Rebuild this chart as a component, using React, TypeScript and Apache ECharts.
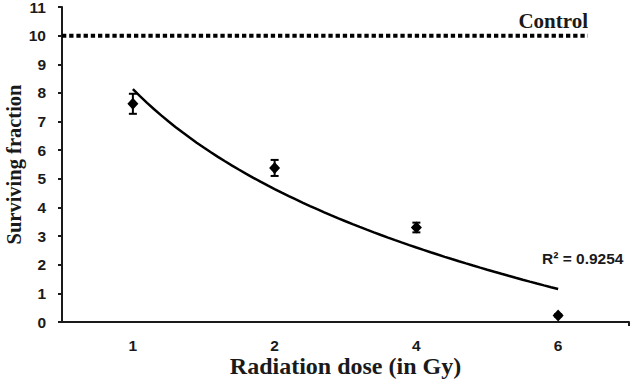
import React, { useEffect, useRef } from "react";
import * as echarts from "echarts";

const doses = ["1", "2", "4", "6"];
const survival = [7.62, 5.38, 3.3, 0.23];
const errors = [0.35, 0.28, 0.17, 0.04];
const controlLevel = 10;
const controlLabel = "Control";
const r2Label = "R² = 0.9254";
const yMin = 0;
const yMax = 11;
const yInterval = 1;

// logarithmic least-squares trendline, y = a ln(x) + b, x = category position (1..n)
function logFit(ys: number[]) {
  const xs = ys.map((_, i) => Math.log(i + 1));
  const n = ys.length;
  const mx = xs.reduce((s, v) => s + v, 0) / n;
  const my = ys.reduce((s, v) => s + v, 0) / n;
  let sxy = 0;
  let sxx = 0;
  for (let i = 0; i < n; i++) {
    sxy += (xs[i] - mx) * (ys[i] - my);
    sxx += (xs[i] - mx) * (xs[i] - mx);
  }
  const a = sxy / sxx;
  return { a, b: my - a * mx };
}

export default function App() {
  const ref = useRef<HTMLDivElement>(null);
  useEffect(() => {
    document.body.style.margin = "0";
    if (!ref.current) return;
    const chart = echarts.init(ref.current, null, { renderer: "svg" });
    const { a, b } = logFit(survival);
    const trend: number[][] = [];
    for (let k = 0; k <= 60; k++) {
      const x = 1 + (k * (survival.length - 1)) / 60;
      trend.push([x, a * Math.log(x) + b]);
    }
    const sans = "Liberation Sans";
    const serif = "Liberation Serif";
    chart.setOption({
      animation: false,
      backgroundColor: "#fff",
      grid: { left: 62, right: 2, top: 7, bottom: 61, containLabel: false, outerBoundsMode: "none" },
      xAxis: [
        {
          type: "category",
          data: doses,
          boundaryGap: true,
          axisLine: { lineStyle: { color: "#1a1a1a", width: 2 } },
          axisTick: { alignWithLabel: true, length: 4, lineStyle: { color: "#1a1a1a", width: 2 } },
          axisLabel: { color: "#1a1a1a", fontSize: 15.5, fontWeight: "bold", fontFamily: sans, margin: 15 },
          name: "Radiation dose (in Gy)",
          nameLocation: "middle",
          nameGap: 32,
          nameMoveOverlap: false,
          nameTextStyle: { color: "#1a1a1a", fontSize: 24, fontWeight: "bold", fontFamily: serif },
          splitLine: { show: false },
        },
        {
          type: "value",
          min: 0.5,
          max: survival.length + 0.5,
          show: false,
        },
      ],
      yAxis: {
        type: "value",
        min: yMin,
        max: yMax,
        interval: yInterval,
        axisLine: { show: true, lineStyle: { color: "#1a1a1a", width: 2 } },
        axisTick: { show: true, length: 4, lineStyle: { color: "#1a1a1a", width: 2 } },
        axisLabel: {
          color: "#1a1a1a",
          fontSize: 15.5,
          lineHeight: 13,
          fontWeight: "bold",
          fontFamily: sans,
          margin: 16,
        },
        splitLine: { show: false },
        name: "Surviving fraction",
        nameLocation: "middle",
        nameGap: 38,
        nameMoveOverlap: false,
        nameTextStyle: { color: "#1a1a1a", fontSize: 20.5, lineHeight: 21, fontWeight: "bold", fontFamily: serif },
      },
      series: [
        {
          type: "line",
          xAxisIndex: 1,
          data: [
            [0.5, controlLevel],
            [4.21, controlLevel],
          ],
          symbol: "none",
          lineStyle: { color: "#000", width: 4, type: [4.3, 2.9], cap: "butt" },
          silent: true,
        },
        {
          type: "line",
          xAxisIndex: 1,
          data: trend,
          symbol: "none",
          smooth: false,
          lineStyle: { color: "#000", width: 2.5 },
          silent: true,
        },
        {
          type: "custom",
          xAxisIndex: 0,
          data: survival.map((v, i) => [i, v - errors[i], v + errors[i]]),
          encode: { x: 0, y: [1, 2] },
          renderItem: (params: any, api: any) => {
            const idx = api.value(0);
            const lo = api.coord([idx, api.value(1)]);
            const hi = api.coord([idx, api.value(2)]);
            const w = 4;
            const st = { stroke: "#000", lineWidth: 2 };
            return {
              type: "group",
              children: [
                { type: "line", shape: { x1: hi[0], y1: hi[1], x2: lo[0], y2: lo[1] }, style: st },
                { type: "line", shape: { x1: hi[0] - w, y1: hi[1], x2: hi[0] + w, y2: hi[1] }, style: st },
                { type: "line", shape: { x1: lo[0] - w, y1: lo[1], x2: lo[0] + w, y2: lo[1] }, style: st },
              ],
            };
          },
          z: 3,
        },
        {
          type: "line",
          xAxisIndex: 0,
          data: survival,
          symbol: "diamond",
          symbolSize: [11, 12],
          lineStyle: { width: 0, opacity: 0 },
          itemStyle: { color: "#000" },
          z: 4,
        },
      ],
      graphic: [
        {
          type: "line",
          shape: { x1: 629, y1: 322, x2: 629, y2: 326 },
          style: { stroke: "#1a1a1a", lineWidth: 2 },
        },
        {
          type: "text",
          right: 43,
          top: 10,
          style: { text: controlLabel, fill: "#1a1a1a", font: `bold 21px ${serif}` },
        },
        {
          type: "text",
          left: 542,
          top: 250,
          style: { text: r2Label, fill: "#1a1a1a", font: `bold 15.5px ${sans}` },
        },
      ],
    });
    return () => chart.dispose();
  }, []);
  return <div ref={ref} style={{ width: 631, height: 383 }} />;
}
